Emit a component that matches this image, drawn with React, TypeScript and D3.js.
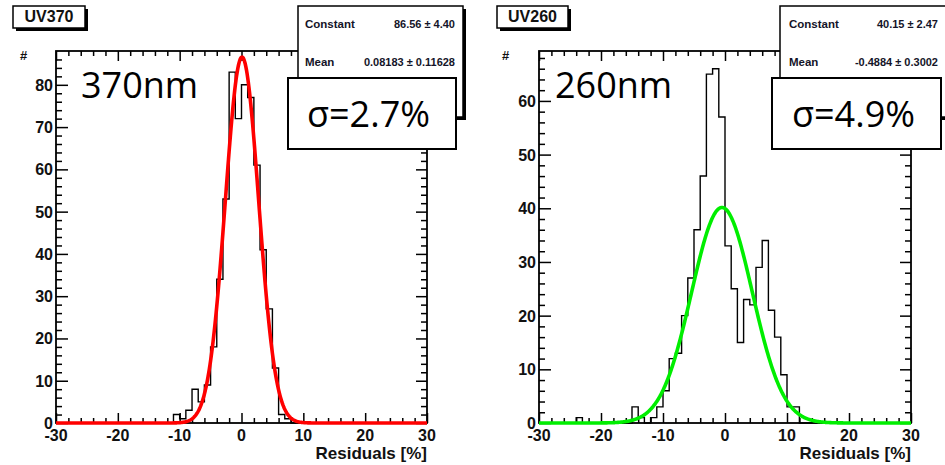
import React, { useRef, useEffect } from 'react';
import * as d3 from 'd3';

// histogram bins (lower edge, width 1) and counts
const edges370 = [-11, -10, -9, -8, -7, -6, -5, -4, -3, -2, -1, 0, 1, 2, 3, 4, 5, 6, 7];
const counts370 = [2, 1, 3, 8, 5, 9, 18, 34, 53, 83, 72, 80, 77, 61, 41, 27, 13, 2, 1];

const edges260 = [-24, -15, -14, -13, -12, -11, -10, -9, -8, -7, -6, -5, -4, -3, -2, -1, 0, 1, 2, 3, 4, 5, 6, 7, 8, 9, 10, 11];
const counts260 = [1, 3, 1, 0, 1, 3, 6, 12, 13, 20, 27, 36, 46, 65, 66, 57, 33, 25, 15, 23, 22, 29, 34, 21, 16, 9, 3, 3];

// gaussian fit parameters (constant, mean, sigma)
const fit370 = [86.56, 0.08183, 2.7];
const fit260 = [40.15, -0.4884, 4.9];

const statNames = ['Constant', 'Mean'];
const stats370 = ['86.56 \u00b1 4.40', '0.08183 \u00b1 0.11628'];
const stats260 = ['40.15 \u00b1 2.47', '-0.4884 \u00b1 0.3002'];

const xMajor = [-30, -20, -10, 0, 10, 20, 30];
const yMajor370 = [0, 10, 20, 30, 40, 50, 60, 70, 80];
const yMajor260 = [0, 10, 20, 30, 40, 50, 60];

const X_LO = -30;
const X_HI = 30;
const TOP = 51;
const BOTTOM = 423;
const axisFont = '"Liberation Sans", Arial, sans-serif';
const bigFont = '"Open Sans", sans-serif';

const panels = [
    {
        left: 56, right: 427, yMax: 88, yMajor: yMajor370,
        edges: edges370, counts: counts370, fit: fit370, color: '#ff0000',
        title: 'UV370', titleBox: [13, 6, 72, 22],
        statBox: [298, 6, 165, 111], statLabelX: 305, statValueX: 455, stats: stats370,
        sigmaBox: [288, 78, 168, 71], sigmaText: '\u03c3=2.7%', sigmaX: 307,
        name: '370nm', nameX: 81, hashX: 20
    },
    {
        left: 539, right: 911, yMax: 69.3, yMajor: yMajor260,
        edges: edges260, counts: counts260, fit: fit260, color: '#00ee00',
        title: 'UV260', titleBox: [497, 6, 71, 22],
        statBox: [780, 6, 170, 111], statLabelX: 789, statValueX: 938, stats: stats260,
        sigmaBox: [772, 78, 169, 71], sigmaText: '\u03c3=4.9%', sigmaX: 792,
        name: '260nm', nameX: 555, hashX: 502
    }
];

function drawPanel(svg, p) {
    const x = d3.scaleLinear().domain([X_LO, X_HI]).range([p.left, p.right]);
    const y = d3.scaleLinear().domain([0, p.yMax]).range([BOTTOM, TOP]);
    const g = svg.append('g');

    const xMinor = d3.range(X_LO, X_HI + 0.1, 2).filter(v => !xMajor.includes(v));
    const yMinor = d3.range(0, p.yMax, 2).filter(v => !p.yMajor.includes(v));

    const tickAxis = (axis, vals, size, transform) => {
        const a = g.append('g')
            .attr('transform', transform)
            .call(axis.tickValues(vals).tickSize(size).tickFormat(''));
        a.select('.domain').remove();
        a.selectAll('line').attr('stroke', '#000').attr('stroke-width', 1.5);
    };
    tickAxis(d3.axisBottom(x), xMajor, -10, `translate(0,${BOTTOM})`);
    tickAxis(d3.axisBottom(x), xMinor, -5, `translate(0,${BOTTOM})`);
    tickAxis(d3.axisTop(x), xMajor, -10, `translate(0,${TOP})`);
    tickAxis(d3.axisTop(x), xMinor, -5, `translate(0,${TOP})`);
    tickAxis(d3.axisLeft(y), p.yMajor, -12, `translate(${p.left},0)`);
    tickAxis(d3.axisLeft(y), yMinor, -6, `translate(${p.left},0)`);
    tickAxis(d3.axisRight(y), p.yMajor, -11, `translate(${p.right},0)`);
    tickAxis(d3.axisRight(y), yMinor, -6, `translate(${p.right},0)`);

    g.append('rect')
        .attr('x', p.left).attr('y', TOP)
        .attr('width', p.right - p.left).attr('height', BOTTOM - TOP)
        .attr('fill', 'none').attr('stroke', '#000').attr('stroke-width', 1.8);

    // histogram outline
    const counts = new Map(p.edges.map((e, i) => [e, p.counts[i]]));
    const pts = [[X_LO, 0]];
    d3.range(X_LO, X_HI).forEach(e => {
        const c = counts.get(e) || 0;
        pts.push([e, c], [e + 1, c]);
    });
    pts.push([X_HI, 0]);
    g.append('path')
        .attr('d', d3.line().x(d => x(d[0])).y(d => y(d[1]))(pts))
        .attr('fill', 'none').attr('stroke', '#000').attr('stroke-width', 1.4);

    // fit curve
    const [c, mu, s] = p.fit;
    const xs = d3.range(X_LO, X_HI + 0.01, 0.1);
    g.append('path')
        .attr('d', d3.line().x(v => x(v)).y(v => y(c * Math.exp(-0.5 * ((v - mu) / s) ** 2)))(xs))
        .attr('fill', 'none').attr('stroke', p.color).attr('stroke-width', 3.6);

    // tick labels
    g.selectAll('text.xl').data(xMajor).enter().append('text')
        .attr('x', d => x(d)).attr('y', BOTTOM + 18)
        .attr('text-anchor', 'middle')
        .text(d => d);
    g.selectAll('text.yl').data(p.yMajor).enter().append('text')
        .attr('x', p.left - 3).attr('y', d => y(d) + 6)
        .attr('text-anchor', 'end')
        .text(d => d);
    g.append('text')
        .attr('x', p.right).attr('y', 459)
        .attr('text-anchor', 'end').attr('font-size', 17)
        .text('Residuals [%]');
    g.append('text')
        .attr('x', p.hashX).attr('y', 60).attr('font-size', 13)
        .text('#');
    g.selectAll('text')
        .attr('font-family', axisFont).attr('font-weight', 'bold')
        .attr('fill', '#111');
    g.selectAll('text:not([font-size])').attr('font-size', 16);

    // boxes drawn last
    const box = (b, shadow, sw) => {
        if (shadow) {
            g.append('rect').attr('x', b[0] + 3).attr('y', b[1] + 3)
                .attr('width', b[2]).attr('height', b[3]).attr('fill', '#000');
        }
        g.append('rect').attr('x', b[0]).attr('y', b[1])
            .attr('width', b[2]).attr('height', b[3])
            .attr('fill', '#fff').attr('stroke', '#000').attr('stroke-width', sw);
    };
    box(p.titleBox, true, 1.5);
    g.append('text')
        .attr('x', p.titleBox[0] + p.titleBox[2] / 2).attr('y', 22)
        .attr('text-anchor', 'middle')
        .attr('font-family', axisFont).attr('font-weight', 'bold').attr('font-size', 16)
        .attr('fill', '#111')
        .text(p.title);

    box(p.statBox, true, 1.5);
    [28, 66].forEach((yy, i) => {
        g.append('text').attr('x', p.statLabelX).attr('y', yy)
            .attr('font-family', axisFont).attr('font-weight', 'bold').attr('font-size', 11.5)
            .attr('fill', '#141428').text(statNames[i]);
        g.append('text').attr('x', p.statValueX).attr('y', yy)
            .attr('text-anchor', 'end')
            .attr('font-family', axisFont).attr('font-weight', 'bold').attr('font-size', 11)
            .attr('fill', '#141428').text(p.stats[i]);
    });

    box(p.sigmaBox, false, 2);
    g.append('text').attr('x', p.sigmaX).attr('y', 127)
        .attr('font-family', bigFont).attr('font-size', 36).attr('fill', '#000')
        .text(p.sigmaText);
    g.append('text').attr('x', p.nameX).attr('y', 98)
        .attr('font-family', bigFont).attr('font-size', 36).attr('fill', '#000')
        .text(p.name);
}

export default function App() {
    const ref = useRef(null);

    useEffect(() => {
        const svg = d3.select(ref.current);
        svg.selectAll('*').remove();
        panels.forEach(p => drawPanel(svg, p));
    }, []);

    return (
        <div style={{ position: 'absolute', left: 0, top: 0 }}>
            <svg ref={ref} width={945} height={465} style={{ display: 'block', background: '#fff' }} />
        </div>
    );
}
